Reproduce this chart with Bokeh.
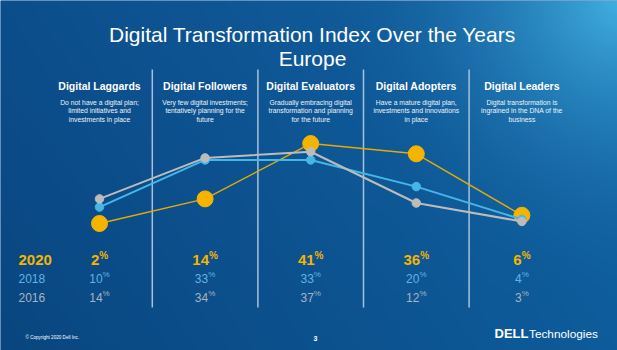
import numpy as np
from bokeh.plotting import figure
from bokeh.models import Range1d, ColumnDataSource
from bokeh.core.properties import value
from bokeh.embed import file_html
from bokeh.resources import INLINE

# ---------------- data ----------------
title_lines = ["Digital Transformation Index Over the Years", "Europe"]
categories = ["Digital Laggards", "Digital Followers", "Digital Evaluators",
              "Digital Adopters", "Digital Leaders"]
descriptions = [
    ["Do not have a digital plan;", "limited initiatives and", "investments in place"],
    ["Very few digital investments;", "tentatively planning for the", "future"],
    ["Gradually embracing digital", "transformation and planning", "for the future"],
    ["Have a mature digital plan,", "investments and innovations", "in place"],
    ["Digital transformation is", "ingrained in the DNA of the", "business"],
]
years = ["2020", "2018", "2016"]
v2020 = [2, 14, 41, 36, 6]
v2018 = [10, 33, 33, 20, 4]
v2016 = [14, 34, 37, 12, 3]
footer_left = "\u00a9 Copyright 2020 Dell Inc."
page_number = "3"

# ---------------- layout / scales ----------------
W, H = 617, 350
X0, XS = 99.0, 105.6     # pixel x of first category, pixels per category
Y0, YS = 227.1, 2.05     # pixel y (from top) of 0 %, pixels per %

def xd(px):
    return (px - X0) / XS

def yd(py):
    return (Y0 - py) / YS

FONT = value("Liberation Sans")
GOLD = "#f5b400"
GOLD_LINE = "#e6aa00"
BLUE = "#45b6e8"
GRAY = "#bcbcbc"
BLUE_TXT = "#62b3e6"
GRAY_TXT = "#a9b3bf"

p = figure(width=W, height=H, x_range=Range1d(xd(0), xd(W)), y_range=Range1d(yd(H), yd(0)),
           x_axis_type=None, y_axis_type=None, min_border=0, toolbar_location=None,
           output_backend="svg")
p.grid.visible = False
p.outline_line_color = None
p.background_fill_color = "#0c5592"
p.border_fill_color = "#0c5592"

# ---------------- background gradient ----------------
yy, xx = np.mgrid[0:H, 0:W].astype(float)
u = xx / (W - 1)
v = yy / (H - 1)
TL = np.array([12, 78, 140.0]); TR = np.array([20, 100, 165.0])
BL = np.array([9, 70, 128.0]); BR = np.array([14, 92, 155.0])
base = (TL * ((1 - u) * (1 - v))[..., None] + TR * (u * (1 - v))[..., None]
        + BL * ((1 - u) * v)[..., None] + BR * (u * v)[..., None])
d = np.sqrt((W - xx) ** 2 + yy ** 2)
g = np.clip(1 - d / 300.0, 0, 1) ** 2
col = np.clip(base + g[..., None] * np.array([45, 75, 60.0]), 0, 255)
img = np.empty((H, W), dtype=np.uint32)
view = img.view(dtype=np.uint8).reshape((H, W, 4))
view[..., 0] = col[..., 0]
view[..., 1] = col[..., 1]
view[..., 2] = col[..., 2]
view[..., 3] = 255
p.image_rgba(image=[img[::-1]], x=xd(0), y=yd(H), dw=xd(W) - xd(0), dh=yd(0) - yd(H))

# ---------------- title ----------------
p.text(x=[xd(312), xd(312)], y=[yd(34), yd(58)], text=title_lines, text_font=FONT,
       text_font_size="21px", text_color="white", text_align="center",
       text_baseline="alphabetic")

# ---------------- separators ----------------
n = len(categories)
sep_x = [i + 0.5 for i in range(n - 1)]
p.segment(x0=sep_x, y0=[yd(69)] * len(sep_x), x1=sep_x, y1=[yd(307)] * len(sep_x),
          line_color="#a7c1da", line_width=1.5)

# ---------------- headers ----------------
idx = list(range(n))
p.text(x=idx, y=[yd(85.5)] * n, text=categories, text_font=FONT, text_font_size="10.5px",
       text_font_style="bold", text_color="white", text_align="center",
       text_baseline="alphabetic")
for k, py in enumerate([101.5, 110.0, 118.5]):
    p.text(x=idx, y=[yd(py)] * n, text=[d_[k] for d_ in descriptions], text_font=FONT,
           text_font_size="6.8px", text_color="#eef3f8", text_align="center",
           text_baseline="alphabetic")

# ---------------- lines ----------------
p.line(idx, v2020, line_color=GOLD_LINE, line_width=1.4)
p.scatter(idx, v2020, size=16, fill_color=GOLD, line_color=GOLD)
p.line(idx, v2018, line_color=BLUE, line_width=2)
p.scatter(idx, v2018, size=8.5, fill_color=BLUE, line_color=BLUE)
p.line(idx, v2016, line_color=GRAY, line_width=2)
p.scatter(idx, v2016, size=8.5, fill_color=GRAY, line_color=GRAY)

# ---------------- value rows ----------------
rows = [
    (years[0], v2020, GOLD, 259, 15, 10, 4.5, "bold"),
    (years[1], v2018, BLUE_TXT, 278, 12, 8, 4.0, "normal"),
    (years[2], v2016, GRAY_TXT, 297, 12, 8, 4.0, "normal"),
]
for yr, vals, color, base_py, fs, fp, raise_, style in rows:
    p.text(x=[xd(18)], y=[yd(base_py)], text=[yr], text_font=FONT,
           text_font_size=f"{fs}px", text_font_style=style, text_color=color,
           text_align="left", text_baseline="alphabetic")
    labels = [str(x) for x in vals]
    offs = []
    for s in labels:
        wd = len(s) * 0.556 * fs
        wp = 0.889 * fp
        offs.append(-(wd + wp) / 2 + wd)
    src = ColumnDataSource(dict(x=idx, y=[yd(base_py)] * n, t=labels,
                                pct=["%"] * n, off=offs,
                                yp=[yd(base_py - raise_)] * n))
    p.text(x="x", y="y", text="t", x_offset="off", source=src, text_font=FONT,
           text_font_size=f"{fs}px", text_font_style=style, text_color=color,
           text_align="right", text_baseline="alphabetic")
    p.text(x="x", y="yp", text="pct", x_offset="off", source=src, text_font=FONT,
           text_font_size=f"{fp}px", text_font_style=style, text_color=color,
           text_align="left", text_baseline="alphabetic")

# ---------------- footer ----------------
p.text(x=[xd(25)], y=[yd(336.5)], text=[footer_left], text_font=FONT,
       text_font_size="4.6px", text_color="white", text_align="left",
       text_baseline="alphabetic")
p.text(x=[xd(315)], y=[yd(338)], text=[page_number], text_font=FONT,
       text_font_size="7px", text_font_style="bold", text_color="white",
       text_align="center", text_baseline="alphabetic")
p.text(x=[xd(528)], y=[yd(333)], text=["DELL"], text_font=FONT, text_font_size="13px",
       text_font_style="bold", text_color="white", text_align="right",
       text_baseline="alphabetic")
p.text(x=[xd(528.5)], y=[yd(333)], text=["Technologies"], text_font=FONT,
       text_font_size="11.8px", text_color="white", text_align="left",
       text_baseline="alphabetic")

open("out.html", "w").write(file_html(p, INLINE))
